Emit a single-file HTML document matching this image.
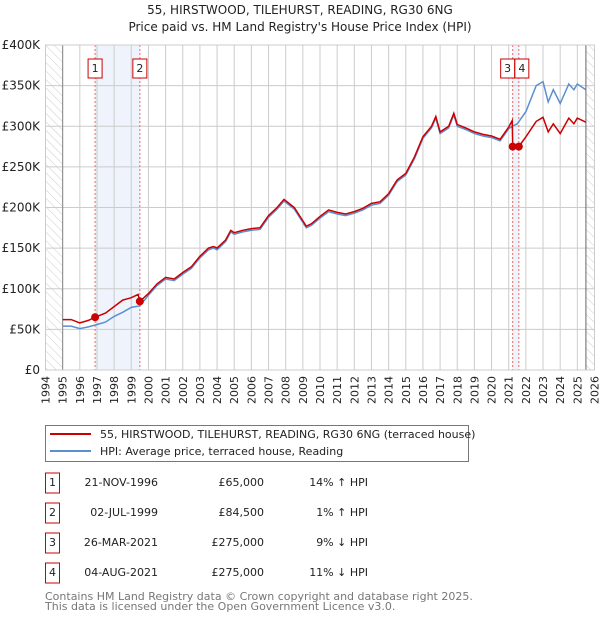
<!DOCTYPE html>
<html><head><meta charset="utf-8"><style>
body{margin:0;background:#fff;font-family:"Liberation Sans","DejaVu Sans",sans-serif;}
svg text{font-family:"DejaVu Sans","Liberation Sans",sans-serif;}
</style></head><body>
<svg id="c" width="600" height="620" xmlns="http://www.w3.org/2000/svg">
<defs><pattern id="hatch" width="6" height="6" patternUnits="userSpaceOnUse" patternTransform="rotate(-45)"><line x1="0" y1="0" x2="0" y2="6" stroke="#ccc" stroke-width="1"/></pattern></defs>
<text x="300" y="14" text-anchor="middle" font-size="12" fill="#222">55, HIRSTWOOD, TILEHURST, READING, RG30 6NG</text>
<text x="300" y="31" text-anchor="middle" font-size="12" fill="#222">Price paid vs. HM Land Registry's House Price Index (HPI)</text>
<g id="plot"></g>
<g>
<rect x="45.5" y="425.5" width="423" height="36" fill="#fff" stroke="#777"/>
<line x1="50" y1="434" x2="91" y2="434" stroke="#cc0000" stroke-width="2"/>
<text x="100" y="438" font-size="11" fill="#222">55, HIRSTWOOD, TILEHURST, READING, RG30 6NG (terraced house)</text>
<line x1="50" y1="451" x2="91" y2="451" stroke="#5b8fd0" stroke-width="2"/>
<text x="100" y="455" font-size="11" fill="#222">HPI: Average price, terraced house, Reading</text>
</g>
<g id="table" font-size="11" fill="#222"></g>
<text x="45" y="600" font-size="11" fill="#777">Contains HM Land Registry data © Crown copyright and database right 2025.</text>
<text x="45" y="610" font-size="11" fill="#777">This data is licensed under the Open Government Licence v3.0.</text>
</svg>
<script>
const hpiDates=[1995,1995.5,1996,1996.5,1997,1997.5,1998,1998.5,1999,1999.5,2000,2000.5,2001,2001.5,2002,2002.5,2003,2003.5,2003.8,2004,2004.5,2004.8,2005,2005.5,2006,2006.5,2007,2007.5,2007.9,2008.5,2008.9,2009.2,2009.5,2010,2010.5,2011,2011.5,2012,2012.5,2013,2013.5,2014,2014.5,2015,2015.5,2016,2016.5,2016.75,2017,2017.5,2017.8,2018,2018.5,2019,2019.5,2020,2020.5,2021,2021.2,2021.5,2022,2022.6,2023,2023.3,2023.6,2024,2024.5,2024.8,2025,2025.5];
const hpiValues=[54,54,51,53,56,59,66,71,77,79,92,104,112,110,118,125,138,148,150,148,158,170,167,170,172,173,188,198,208,198,185,175,178,187,195,192,190,193,197,203,205,215,232,240,260,285,298,310,291,298,314,300,296,291,288,286,282,297,300,303,318,350,355,330,345,328,352,345,352,345];
const redDates=[1995,1995.5,1996,1996.5,1996.89,1997.5,1998,1998.5,1999,1999.4,1999.5,2000,2000.5,2001,2001.5,2002,2002.5,2003,2003.5,2003.8,2004,2004.5,2004.8,2005,2005.5,2006,2006.5,2007,2007.5,2007.9,2008.5,2008.9,2009.2,2009.5,2010,2010.5,2011,2011.5,2012,2012.5,2013,2013.5,2014,2014.5,2015,2015.5,2016,2016.5,2016.75,2017,2017.5,2017.8,2018,2018.5,2019,2019.5,2020,2020.5,2021,2021.2,2021.23,2021.59,2022,2022.6,2023,2023.3,2023.6,2024,2024.5,2024.8,2025,2025.5];
const redValues=[62,62,58,61,65,70,78,86,89,93,84.5,94,106,114,112,120,127,140,150,152,150,160,172,169,172,174,175,190,200,210,200,187,177,180,189,197,194,192,195,199,205,207,217,234,242,262,287,300,312,293,300,316,302,298,293,290,288,284,299,307,275,275,287,306,311,293,303,291,310,303,310,305];
const saleDates=[1996.89,1999.5,2021.23,2021.59];
const salePrices=[65,84.5,275,275];
const saleLabels=["1","2","3","4"];
const yTicks=[0,50,100,150,200,250,300,350,400];
const yTickLabels=["£0","£50K","£100K","£150K","£200K","£250K","£300K","£350K","£400K"];
const years=[1994,1995,1996,1997,1998,1999,2000,2001,2002,2003,2004,2005,2006,2007,2008,2009,2010,2011,2012,2013,2014,2015,2016,2017,2018,2019,2020,2021,2022,2023,2024,2025,2026];
const tableDates=["21-NOV-1996","02-JUL-1999","26-MAR-2021","04-AUG-2021"];
const tablePrices=["£65,000","£84,500","£275,000","£275,000"];
const tableHpi=["14% ↑ HPI","1% ↑ HPI","9% ↓ HPI","11% ↓ HPI"];

const X0=45.5,X1=594.5,Y0=370,Y1=45;
const xs=t=>X0+(t-1994)/32*(X1-X0);
const ys=v=>Y0-v/400*(Y0-Y1);
const NS="http://www.w3.org/2000/svg";
const plot=document.getElementById('plot');
function mk(tag,attrs,parent){const e=document.createElementNS(NS,tag);for(const k in attrs)e.setAttribute(k,attrs[k]);(parent||plot).appendChild(e);return e;}

let e=mk('rect',{x:xs(saleDates[0]),y:Y1,width:xs(saleDates[1])-xs(saleDates[0]),height:Y0-Y1,fill:'#eef3fc'});


e=mk('rect',{x:xs(saleDates[2]),y:Y1,width:xs(saleDates[3])-xs(saleDates[2]),height:Y0-Y1,fill:'#eef3fc'});


e=mk('rect',{x:X0,y:Y1,width:xs(1995)-X0,height:Y0-Y1,fill:'url(#hatch)'});


e=mk('rect',{x:xs(2025.5),y:Y1,width:X1-xs(2025.5),height:Y0-Y1,fill:'url(#hatch)'});


years.forEach(y=>{const g=mk('line',{x1:xs(y),x2:xs(y),y1:Y1,y2:Y0,stroke:'#ccc','stroke-width':1});


const t=mk('text',{x:0,y:0,transform:`translate(${xs(y)+4},${Y0+6}) rotate(-90)`,'text-anchor':'end','font-size':11,fill:'#222'});
t.textContent=y;

});
yTicks.forEach((v,i)=>{const g=mk('line',{x1:X0,x2:X1,y1:ys(v),y2:ys(v),stroke:'#ccc','stroke-width':1});


const t=mk('text',{x:40,y:ys(v)+4,'text-anchor':'end','font-size':12,fill:'#222'});
t.textContent=yTickLabels[i];

});
e=mk('line',{x1:xs(1995),x2:xs(1995),y1:Y1,y2:Y0,stroke:'#888'});


e=mk('line',{x1:xs(2025.5),x2:xs(2025.5),y1:Y1,y2:Y0,stroke:'#666'});


saleDates.forEach((d,i)=>{const l=mk('line',{x1:xs(d),x2:xs(d),y1:Y1,y2:Y0,stroke:'#e66','stroke-width':1,'stroke-dasharray':'2,2'});

});
let d=hpiDates.map((t,i)=>(i?'L':'M')+xs(t).toFixed(1)+','+ys(hpiValues[i]).toFixed(1)).join('');
e=mk('path',{d:d,fill:'none',stroke:'#5b8fd0','stroke-width':1.5});


d=redDates.map((t,i)=>(i?'L':'M')+xs(t).toFixed(1)+','+ys(redValues[i]).toFixed(1)).join('');
e=mk('path',{d:d,fill:'none',stroke:'#cc0000','stroke-width':1.5});


saleDates.forEach((t,i)=>{const c=mk('circle',{cx:xs(t),cy:ys(salePrices[i]),r:4,fill:'#cc0000'});


const bx=i==2?xs(t)-12:(i==3?xs(t)-4:xs(t)-7);
const r=mk('rect',{x:bx,y:59,width:14,height:19,fill:'#fff',stroke:'#cc0000'});


const tx=mk('text',{x:bx+7,y:72,'text-anchor':'middle','font-size':11,fill:'#222'});
tx.textContent=saleLabels[i];

});
e=mk('rect',{x:X0,y:Y1,width:X1-X0,height:Y0-Y1,fill:'none',stroke:'#ccc'});


const tb=document.getElementById('table');
saleLabels.forEach((s,i)=>{const cy=483+i*30;
let r=mk('rect',{x:45.5,y:cy-10,width:14,height:20,fill:'#fff',stroke:'#cc0000'},tb);


let t=mk('text',{x:52.5,y:cy+3,'text-anchor':'middle'},tb);t.textContent=s;


t=mk('text',{x:158,y:cy+3,'text-anchor':'end'},tb);t.textContent=tableDates[i];


t=mk('text',{x:264,y:cy+3,'text-anchor':'end'},tb);t.textContent=tablePrices[i];


t=mk('text',{x:368,y:cy+3,'text-anchor':'end'},tb);t.textContent=tableHpi[i];

});
</script>
</body></html>
